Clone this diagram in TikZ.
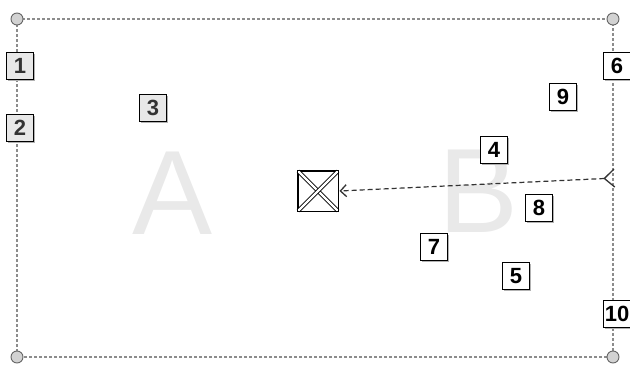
\documentclass[tikz,border=0pt]{standalone}
\usepackage{fontspec}
\setmainfont{Liberation Sans}
\usetikzlibrary{arrows.meta,shadows}
\begin{document}
\begin{tikzpicture}[x=1pt,y=-1pt,
  frame/.style={draw=gray!90,dashed,dash pattern=on 3pt off 2pt,line width=1.1pt},
  corner/.style={circle,draw=gray!80!black,fill=gray!35,minimum size=12pt,inner sep=0pt,line width=0.9pt},
  numbox/.style={draw=black,fill=white,minimum size=27pt,inner sep=0pt,line width=1pt,
     font=\bfseries\fontsize{22}{22}\selectfont,
     general shadow={shadow xshift=1.3pt,shadow yshift=-1.3pt,fill=gray!60}},
  greybox/.style={numbox,fill=gray!18,text=gray!40!black},
  bigletter/.style={text=gray!17,font=\fontsize{120}{120}\selectfont,inner sep=0pt},
  link/.style={draw=black!80,dashed,dash pattern=on 5pt off 3pt,line width=1.2pt}
]
\useasboundingbox (0,0) rectangle (630,367);
% big letters
\node[bigletter] (A) at (173,193) {A};
\node[bigletter] (B) at (479,191) {B};
% frame
\coordinate (tl) at (17,19);
\coordinate (tr) at (613,19);
\coordinate (bl) at (17,357);
\coordinate (br) at (613,357);
\draw[frame] (tl) -- (tr) -- (br) -- (bl) -- cycle;
\node[corner] (c1) at (tl) {};
\node[corner] (c2) at (tr) {};
\node[corner] (c3) at (bl) {};
\node[corner] (c4) at (br) {};
% boxes
\node[greybox] (n1) at (20,66) {1};
\node[greybox] (n2) at (20,128) {2};
\node[greybox] (n3) at (153,108) {3};
\node[numbox] (n4) at (494,150) {4};
\node[numbox] (n5) at (516,276) {5};
\node[numbox] (n6) at (617,66) {6};
\node[numbox] (n7) at (434,247) {7};
\node[numbox] (n8) at (539,208) {8};
\node[numbox] (n9) at (563,97) {9};
\node[numbox] (n10) at (617,314) {10};
% X box
\node[draw=black,fill=white,minimum size=40pt,inner sep=0pt,line width=1pt] (xb) at (318,191) {};
\draw[double=white,double distance=2.2pt,line width=0.9pt,shorten <=1pt,shorten >=1pt] (xb.north west) -- (xb.south east);
\draw[double=white,double distance=2.2pt,line width=0.9pt,shorten <=1pt,shorten >=1pt] (xb.north east) -- (xb.south west);
\draw[draw=black,line width=1.3pt] (xb.north west) rectangle (xb.south east);
% link
\coordinate (src) at (615,178);
\draw[link,arrows={Straight Barb[reversed,length=10pt,width=18pt,line width=1.3pt]-Straight Barb[length=6pt,width=12pt,line width=1.3pt]}] (src) -- ([xshift=1pt]xb.east);
\end{tikzpicture}
\end{document}
